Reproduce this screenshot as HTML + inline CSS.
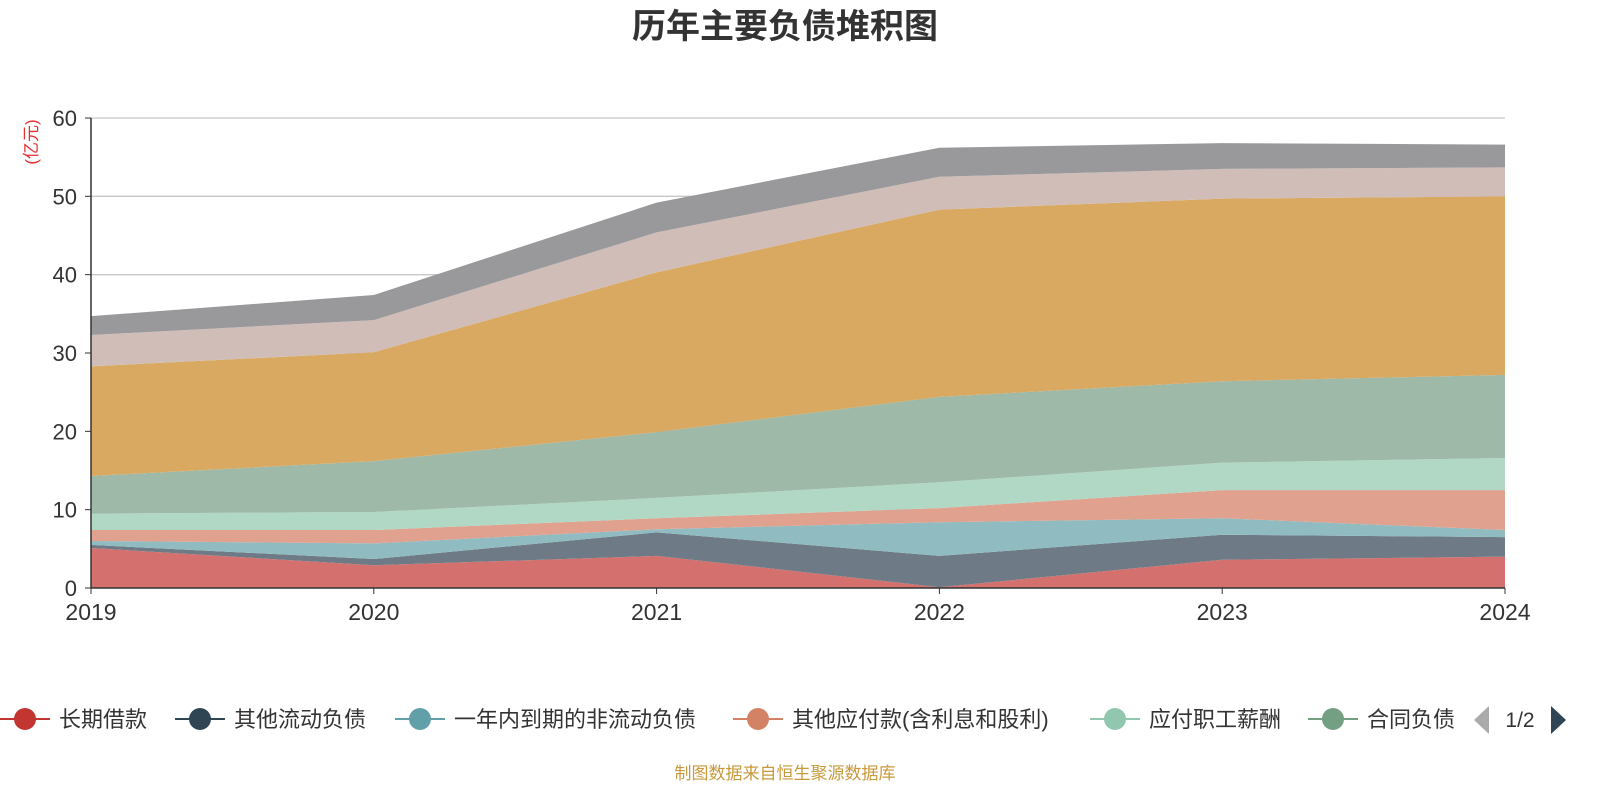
<!DOCTYPE html>
<html><head><meta charset="utf-8"><style>
html,body{margin:0;padding:0;background:#fff;}
svg{display:block;font-family:"Liberation Sans","Noto Sans CJK SC",sans-serif;}
</style></head><body>
<svg id="chart" width="1600" height="800">
<text x="785" y="38" text-anchor="middle" font-size="34" font-weight="bold" fill="#333">历年主要负债堆积图</text>
<text x="0" y="0" transform="translate(37,142) rotate(-90)" text-anchor="middle" font-size="17" fill="#e03030">(亿元)</text>
<g id="grid"></g><g id="areas"></g><g id="axes"></g><g id="legend"></g>
<text x="785" y="779" text-anchor="middle" font-size="17" fill="#c89a3c">制图数据来自恒生聚源数据库</text>
</svg>
<script>
const years = ['2019','2020','2021','2022','2023','2024'];
const seriesNames = ['长期借款','其他流动负债','一年内到期的非流动负债','其他应付款(含利息和股利)','应付职工薪酬','合同负债','应付账款','应付票据','其他'];
const s1 = [5.1, 2.9, 4.1, 0.1, 3.6, 4.0];
const s2 = [0.4, 0.8, 3.0, 4.0, 3.2, 2.5];
const s3 = [0.5, 2.0, 0.4, 4.3, 2.1, 0.9];
const s4 = [1.4, 1.7, 1.4, 1.8, 3.6, 5.1];
const s5 = [2.1, 2.3, 2.6, 3.3, 3.5, 4.1];
const s6 = [4.8, 6.5, 8.4, 10.9, 10.4, 10.6];
const s7 = [14.0, 13.9, 20.4, 23.9, 23.3, 22.8];
const s8 = [4.0, 4.1, 5.1, 4.2, 3.8, 3.7];
const s9 = [2.4, 3.2, 3.8, 3.7, 3.3, 2.9];
const yTicks = [0,10,20,30,40,50,60];
const seriesData = [s1,s2,s3,s4,s5,s6,s7,s8,s9];
const fills = ['#d4706e','#6e7b86','#90bcc1','#e0a18f','#b1d8c5','#9eb9a7','#d9a962','#d0bdb8','#99999c'];
const legendColors = ['#c23531','#2f4554','#61a0a8','#d48265','#91c7ae','#749f83'];
const NS='http://www.w3.org/2000/svg';
const x0=91,x1=1505,yb=588,yt=118;
const xs=i=>x0+(x1-x0)*i/(years.length-1);
const ys=v=>yb-(yb-yt)*v/60;
function mk(tag,attrs,parent){const e=document.createElementNS(NS,tag);for(const k in attrs)e.setAttribute(k,attrs[k]);parent.appendChild(e);return e;}
const grid=document.getElementById('grid'),areas=document.getElementById('areas'),axes=document.getElementById('axes'),legend=document.getElementById('legend');
yTicks.forEach(t=>{
  if(t>0){const l=mk('line',{x1:x0,x2:x1,y1:ys(t),y2:ys(t),stroke:'#c8c8c8','stroke-width':1.3},grid);
  
  }
  const tk=mk('line',{x1:x0-6,x2:x0,y1:ys(t),y2:ys(t),stroke:'#333'},axes);
  
  
  const tx=mk('text',{x:x0-14,y:ys(t)+8,'text-anchor':'end','font-size':22,fill:'#333'},axes);
  tx.textContent=t;
  
  
});
let base=years.map(()=>0);
seriesData.forEach((arr,si)=>{
  const top=base.map((b,i)=>b+arr[i]);
  let d='M'+top.map((v,i)=>xs(i)+','+ys(v)).join('L');
  for(let i=years.length-1;i>=0;i--)d+='L'+xs(i)+','+ys(base[i]);
  const p=mk('path',{d:d+'Z',fill:fills[si],stroke:'none'},areas);
  
  
  base=top;
});
const ya=mk('line',{x1:x0,x2:x0,y1:yt,y2:yb,stroke:'#333','stroke-width':1.5},axes);


const xa=mk('line',{x1:x0,x2:x1,y1:yb,y2:yb,stroke:'#333','stroke-width':1.5},axes);


years.forEach((y,i)=>{
  const tk=mk('line',{x1:xs(i),x2:xs(i),y1:yb,y2:yb+6,stroke:'#333'},axes);
  
  
  const tx=mk('text',{x:xs(i),y:yb+32,'text-anchor':'middle','font-size':23,fill:'#333'},axes);
  tx.textContent=y;
  
  
});
const lx=[0,175,395,733,1090,1308];
const clip=mk('clipPath',{id:'lc'},legend);mk('rect',{x:0,y:690,width:1455,height:60},clip);
const lg=mk('g',{'clip-path':'url(#lc)'},legend);
lx.forEach((x,i)=>{
  const g=mk('g',{},lg);
  
  
  mk('line',{x1:x,x2:x+50,y1:719,y2:719,stroke:legendColors[i],'stroke-width':2},g);
  mk('circle',{cx:x+25,cy:719,r:11,fill:legendColors[i]},g);
  const t=mk('text',{x:x+59,y:727,'font-size':22,fill:'#333'},g);
  t.textContent=seriesNames[i];
});
const pl=mk('path',{d:'M1489,706L1489,734L1474,720Z',fill:'#aaa'},legend);


const pt=mk('text',{x:1520,y:727,'text-anchor':'middle','font-size':21,fill:'#333'},legend);
pt.textContent='1/2';


const pn=mk('path',{d:'M1551,706L1551,734L1566,720Z',fill:'#2f4554'},legend);


</script>
</body></html>
